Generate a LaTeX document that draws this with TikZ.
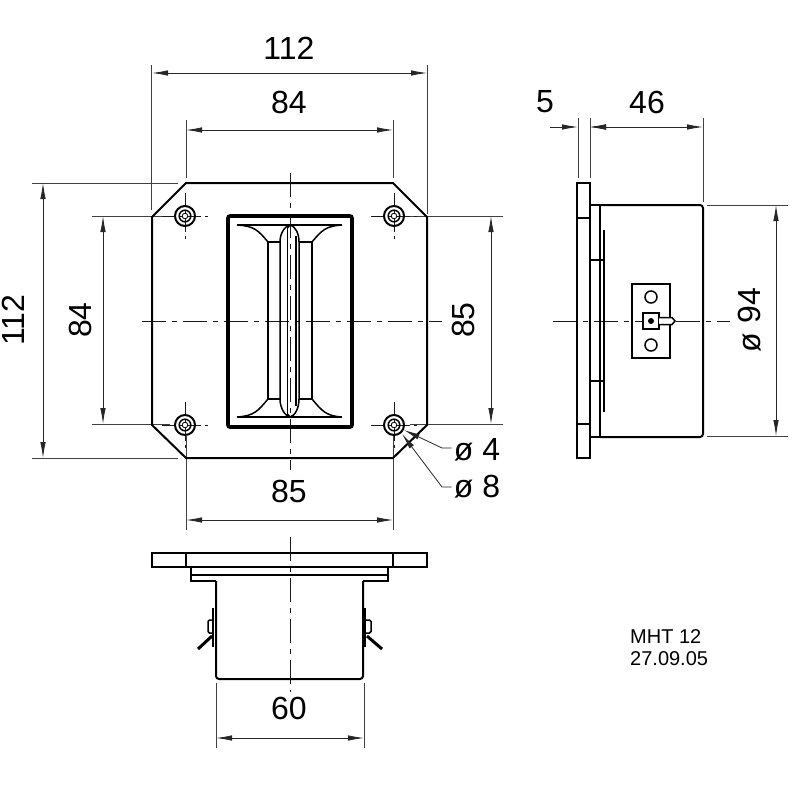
\documentclass[tikz,border=0pt]{standalone}
\usepackage{fontspec}
\setmainfont{Liberation Sans}
\usetikzlibrary{arrows.meta}

\tikzset{
    outline/.style={line width=2pt, black},
    thick outline/.style={line width=3.6pt, black, rounded corners=2pt},
    thin outline/.style={line width=1.5pt, black},
    extension/.style={line width=0.8pt, black!75},
    dimline/.style={line width=0.8pt, black!85, <->},
    leader/.style={line width=0.8pt, black!85},
    axis/.style={line width=0.9pt, black!90, dash pattern=on 24pt off 6pt on 5pt off 6pt},
    dimtext/.style={font=\fontsize{32}{32}\selectfont, inner sep=0pt},
    notetext/.style={font=\fontsize{20}{22}\selectfont, inner sep=0pt, align=left, anchor=west},
}

\begin{document}
\begin{tikzpicture}[x=1pt, y=-1pt, >={Latex[length=16pt,width=5.5pt]}]
    \useasboundingbox (0,0) rectangle (800,800);

    % extension lines
    \draw [extension] (151.5,65) -- (151.5,210);
    \draw [extension] (427,65) -- (427,214);
    \draw [extension] (186,120) -- (186,178);
    \draw [extension] (393,120) -- (393,178);
    \draw [extension] (32,183) -- (178,183);
    \draw [extension] (32,458) -- (178,458);
    \draw [extension] (92,216) -- (170,216);
    \draw [extension] (92,424) -- (170,424);
    \draw [extension] (410,216) -- (503,216);
    \draw [extension] (410,424) -- (503,424);
    \draw [extension] (186,436) -- (186,530);
    \draw [extension] (393,436) -- (393,530);
    \draw [extension] (216,683) -- (216,748);
    \draw [extension] (364,683) -- (364,748);
    \draw [extension] (578,118) -- (578,178);
    \draw [extension] (590,118) -- (590,178);
    \draw [extension] (703,118) -- (703,202);
    \draw [extension] (707,205) -- (788,205);
    \draw [extension] (707,436) -- (788,436);

    % centre lines
    \draw [axis] (142,321) -- (442,321);
    \draw [axis] (290,173) -- (290,470);
    \draw [axis] (290,537) -- (290,692);
    \draw [axis] (553,321) -- (730,321);
    \foreach \hx/\hy in {185/216, 394/216, 185/425, 394/425} {
        \draw [axis, dash pattern=on 14pt off 4pt on 3pt off 4pt] (\hx-23,\hy) -- (\hx+23,\hy);
        \draw [axis, dash pattern=on 14pt off 4pt on 3pt off 4pt] (\hx,\hy-23) -- (\hx,\hy+23);
    }

    % front view
    \draw [outline] (186,183) -- (393,183) -- (427,217) -- (427,425) -- (393,458)
        -- (186,458) -- (152,425) -- (152,217) -- cycle;
    \foreach \hx/\hy in {185/216, 394/216, 185/425, 394/425} {
        \draw [outline] (\hx,\hy) circle (10);
        \draw [thin outline] (\hx,\hy) circle (5.8);
        \draw [line width=0.8pt] (\hx,\hy) circle (2.8);
    }
    \draw [thick outline] (228,216) rectangle (352,427);
    \draw [thin outline] (237,225) -- (342,225);
    \draw [thin outline] (237,417) -- (342,417);
    \draw [thin outline] (268,242) -- (280,242);
    \draw [thin outline] (299,242) -- (312,242);
    \draw [thin outline] (268,399) -- (280,399);
    \draw [thin outline] (299,399) -- (312,399);
    \draw [thin outline] (268,242) -- (268,399);
    \draw [thin outline] (312,242) -- (312,399);
    \draw [thin outline] (280,242) -- (280,399) .. controls (280,408) and (285,416) .. (290,417)
        .. controls (295,416) and (299,408) .. (299,399) -- (299,242)
        .. controls (299,233) and (295,226) .. (290,225)
        .. controls (285,226) and (280,233) .. (280,242) -- cycle;
    \draw [thin outline] (287.5,228) -- (287.5,414);
    \draw [thin outline] (296,236) -- (296,406);
    \draw [thin outline] (287.5,228) -- (290,225);
    \draw [thin outline] (287.5,414) -- (290,417);
    \draw [thin outline] (268,242) .. controls (258,230) and (254,226) .. (237,225);
    \draw [thin outline] (312,242) .. controls (322,230) and (326,226) .. (342,225);
    \draw [thin outline] (268,399) .. controls (258,411) and (254,416) .. (237,417);
    \draw [thin outline] (312,399) .. controls (322,411) and (326,416) .. (342,417);

    % bottom view
    \draw [outline] (152,553) rectangle (427,567);
    \draw [outline] (186,553) -- (186,567);
    \draw [outline] (393,553) -- (393,567);
    \draw [outline] (191,567) -- (191,581) -- (216,581);
    \draw [outline] (388,567) -- (388,581) -- (363,581);
    \draw [outline] (191,575) -- (388,575);
    \draw [outline, rounded corners=3pt] (216,581) -- (216,679) -- (363,679) -- (363,581);
    \draw [line width=2.6pt] (213,608) -- (213,647);
    \draw [line width=2.6pt] (365,608) -- (365,647);
    \draw [thin outline, rounded corners=1.5pt] (213,620) -- (208,620) -- (208,633) -- (213,633);
    \draw [thin outline, rounded corners=1.5pt] (365,620) -- (371,620) -- (371,633) -- (365,633);
    \draw [line width=3pt] (212,636) -- (198,649);
    \draw [line width=3pt] (367,636) -- (382,649);

    % side view
    \draw [outline] (577,183) rectangle (590,458);
    \draw [outline] (577,218) -- (590,218);
    \draw [outline] (577,424) -- (590,424);
    \draw [outline] (590,205) -- (600,205);
    \draw [outline] (590,437) -- (600,437);
    \draw [outline, rounded corners=3pt] (600,205) -- (703,205) -- (703,437) -- (600,437);
    \draw [outline] (600,205) -- (600,437);
    \draw [thin outline] (604,230) -- (604,412);
    \draw [thin outline] (590,260) -- (604,260);
    \draw [thin outline] (590,381) -- (604,381);
    \draw [outline, line width=1.8pt] (632,284) rectangle (670,358);
    \draw [thin outline] (651,297) circle (6);
    \draw [thin outline] (651,345) circle (6);
    \draw [outline, fill=white] (643,313) rectangle (659,329);
    \fill (651,321) circle (3);
    \draw [thin outline, fill=white] (659,317.5) -- (672,317.5) -- (675,321) -- (672,324.5) -- (659,324.5);

    % named ends of the dimension lines
    \coordinate (w112a) at (152,73);
    \coordinate (w112b) at (427,73);
    \coordinate (w84a) at (186,130);
    \coordinate (w84b) at (393,130);
    \coordinate (h112a) at (43,183);
    \coordinate (h112b) at (43,458);
    \coordinate (h84a) at (103,216);
    \coordinate (h84b) at (103,424);
    \coordinate (h85a) at (491,216);
    \coordinate (h85b) at (491,424);
    \coordinate (w85a) at (186,520);
    \coordinate (w85b) at (393,520);
    \coordinate (w60a) at (216,738);
    \coordinate (w60b) at (364,738);
    \coordinate (w46a) at (590,127);
    \coordinate (w46b) at (703,127);
    \coordinate (h94a) at (776,205);
    \coordinate (h94b) at (776,436);
    \coordinate (w5a) at (550,127);
    \coordinate (w5b) at (578,127);
    \coordinate (w5c) at (590,127);
    \coordinate (w5d) at (602,127);
    \coordinate (hole4) at (404,430);
    \coordinate (hole8) at (402,434);

    \draw [dimline] (w112a) -- (w112b);
    \draw [dimline] (w84a) -- (w84b);
    \draw [dimline] (h112a) -- (h112b);
    \draw [dimline] (h84a) -- (h84b);
    \draw [dimline] (h85a) -- (h85b);
    \draw [dimline] (w85a) -- (w85b);
    \draw [dimline] (w60a) -- (w60b);
    \draw [dimline] (w46a) -- (w46b);
    \draw [dimline] (h94a) -- (h94b);
    \draw [leader, ->] (w5a) -- (w5b);
    \draw [leader, ->] (w5d) -- (w5c);

    % labels
    \node [dimtext] (l112w) at (289,48) {112};
    \node [dimtext] (l84w) at (289,102) {84};
    \node [dimtext, rotate=90] (l112h) at (13,320) {112};
    \node [dimtext, rotate=90] (l84h) at (80,320) {84};
    \node [dimtext, rotate=90] (l85h) at (463,320) {85};
    \node [dimtext] (l85w) at (289,491) {85};
    \node [dimtext] (l60) at (289,708) {60};
    \node [dimtext] (l5) at (545,102) {5};
    \node [dimtext] (l46) at (647,102) {46};
    \node [dimtext, rotate=90] (l94) at (750,320) {ø 94};
    \node [dimtext] (l4) at (477,450) {ø 4};
    \node [dimtext] (l8) at (477,487) {ø 8};
    \node [notetext] (note) at (630,648) {MHT 12\\27.09.05};

    \draw [leader, ->] (l4.west) ++(-2,-2) coordinate (l4end) -- (442,448) -- (hole4);
    \draw [leader, ->] (l8.west) ++(-2,0) coordinate (l8end) -- (442,487) -- (hole8);
\end{tikzpicture}
\end{document}
